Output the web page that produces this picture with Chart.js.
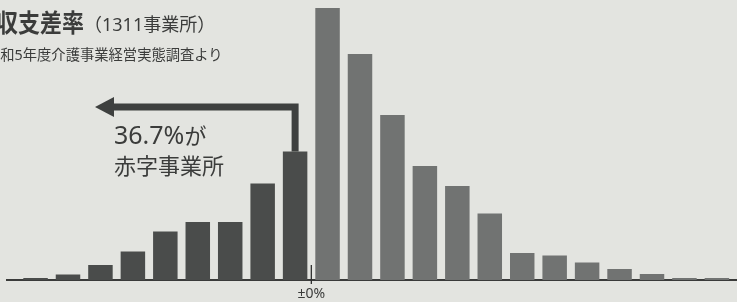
<!DOCTYPE html>
<html lang="ja">
<head>
<meta charset="UTF-8">
<title>収支差率</title>
<script src="https://cdn.jsdelivr.net/npm/chart.js"></script>
<style>
  html, body { margin: 0; padding: 0; }
  body {
    width: 737px; height: 302px; overflow: hidden; position: relative;
    background: #e3e4e0; color: #3b3c3b;
    font-family: "Noto Sans", "Noto Sans CJK JP", sans-serif;
  }
  .chart-box { position: absolute; left: 0; top: 0; width: 737px; height: 302px; }
  .title { position: absolute; left: -4px; top: 7px; white-space: nowrap; line-height: 30px; }
  .title b { display: inline-block; font-size: 22px; font-weight: bold; transform: scaleY(1.15); }
  .title span { font-size: 18px; }
  .sub { position: absolute; left: -14px; top: 46px; white-space: nowrap; font-size: 14.3px; line-height: 18px; }
  .note { position: absolute; left: 114px; top: 119px; font-size: 22px; line-height: 30px; }
  .note .num { font-size: 25px; }
</style>
</head>
<body>
<div class="chart-box"><canvas id="histChart"></canvas></div>
<div class="title"><b>収支差率</b><span>（1311事業所）</span></div>
<div class="sub">令和5年度介護事業経営実態調査より</div>
<div class="note"><span class="num">36.7%</span>が<br>赤字事業所</div>

<script>
// bar heights (bins left of ±0% are deficit)
const deficitBars = [2, 5.5, 15, 28.5, 48.5, 58, 58, 96.5, 128.5];
const surplusBars = [272, 226, 165, 114, 94, 66.5, 27, 24.5, 17.5, 11, 6, 2, 2];
const zeroTick = 8.5;          // boundary between last deficit bin and first surplus bin
const zeroLabel = '±0%';

const deficitPoints = deficitBars.map((v, i) => ({ x: i, y: v }));
const surplusPoints = surplusBars.map((v, i) => ({ x: deficitBars.length + i, y: v }));

// arrow from the last deficit bar pointing left, plus the short ±0% tick
const arrowPlugin = {
    id: 'arrow',
    afterDatasetsDraw(chart) {
        const ctx = chart.ctx;
        const bars = chart.getDatasetMeta(0).data;
        const last = bars[bars.length - 1];
        const yTurn = 107;
        ctx.save();
        ctx.strokeStyle = '#3e403f';
        ctx.fillStyle = '#3e403f';
        ctx.lineWidth = 7;
        ctx.lineJoin = 'miter';
        ctx.beginPath();
        ctx.moveTo(last.x, last.y);
        ctx.lineTo(last.x, yTurn);
        ctx.lineTo(112, yTurn);
        ctx.stroke();
        ctx.beginPath();
        ctx.moveTo(95, yTurn);
        ctx.lineTo(114, yTurn - 10);
        ctx.lineTo(114, yTurn + 10);
        ctx.closePath();
        ctx.fill();

        const xs = chart.scales.x;
        const px = xs.getPixelForValue(zeroTick);
        ctx.lineWidth = 1.3;
        ctx.strokeStyle = '#2f302f';
        ctx.beginPath();
        ctx.moveTo(px, chart.chartArea.bottom - 15);
        ctx.lineTo(px, chart.chartArea.bottom + 4);
        ctx.stroke();
        ctx.restore();
    }
};

const ctxHist = document.getElementById('histChart').getContext('2d');
const histChart = new Chart(ctxHist, {
    type: 'bar',
    data: {
        datasets: [{
            label: '赤字',
            data: deficitPoints,
            backgroundColor: '#4a4c4b'
        }, {
            label: '黒字',
            data: surplusPoints,
            backgroundColor: '#717372'
        }]
    },
    options: {
        responsive: true,
        maintainAspectRatio: false,
        animation: false,
        grouped: false,
        barPercentage: 1,
        categoryPercentage: 0.755,
        layout: { padding: { left: 7, right: 0, top: 0, bottom: 0 } },
        plugins: {
            legend: { display: false },
            tooltip: { enabled: false }
        },
        scales: {
            x: {
                type: 'linear',
                min: -0.88,
                max: 21.62,
                offset: false,
                border: { display: true, color: '#3a3b3a', width: 2 },
                grid: { display: true, drawOnChartArea: false, drawTicks: true, tickLength: 3, color: 'rgba(0,0,0,0)', offset: false },
                afterBuildTicks(scale) { scale.ticks = [{ value: zeroTick }]; },
                afterFit(scale) { scale.height = 22; },
                ticks: {
                    autoSkip: false,
                    maxRotation: 0,
                    padding: 3,
                    color: '#3b3c3b',
                    font: { family: '"Noto Sans", "Noto Sans CJK JP", sans-serif', size: 14 },
                    callback: () => zeroLabel
                }
            },
            y: {
                display: false,
                min: 0,
                max: 280
            }
        }
    },
    plugins: [arrowPlugin]
});
</script>
</body>
</html>
